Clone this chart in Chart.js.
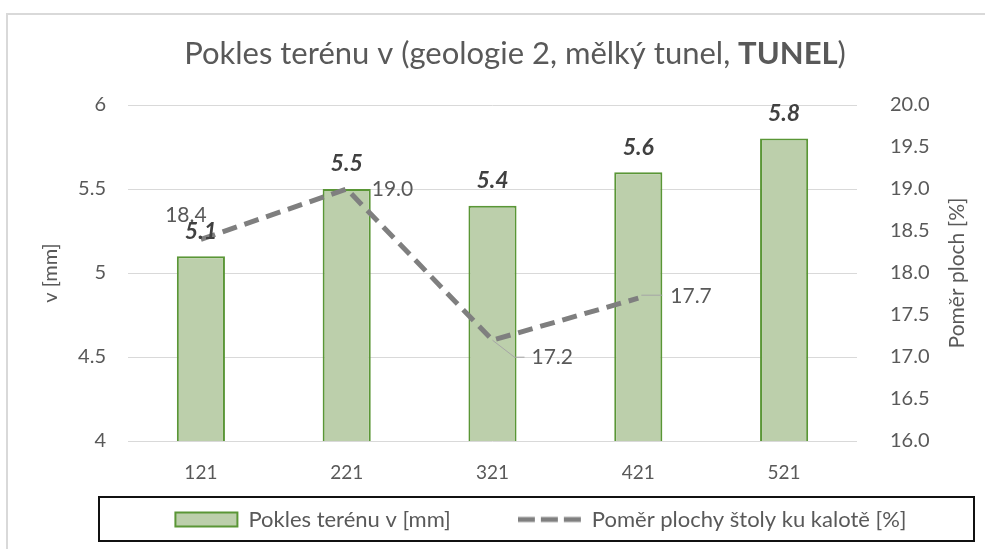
<!DOCTYPE html>
<html>
<head>
<meta charset="utf-8">
<script src="https://cdn.jsdelivr.net/npm/chart.js@4/dist/chart.umd.min.js"></script>
<style>
  html, body { margin: 0; padding: 0; background: #ffffff; }
  #wrap { position: relative; width: 985px; height: 549px; }
</style>
</head>
<body>
<div id="wrap"><canvas id="c" width="985" height="549"></canvas></div>
<script>
// ---- data ----
const categories = ['121', '221', '321', '421', '521'];
const settlement = [5.1, 5.5, 5.4, 5.6, 5.8];          // Pokles terénu v [mm]
const areaRatio = [18.4, 19.0, 17.2, 17.7, null];      // Poměr plochy štoly ku kalotě [%]
const leftTicks = [4, 4.5, 5, 5.5, 6];
const rightTicks = [16, 16.5, 17, 17.5, 18, 18.5, 19, 19.5, 20];
const titleParts = [
  { text: 'Pokles terénu v (geologie 2, mělký tunel, ', bold: false },
  { text: 'TUNEL', bold: true },
  { text: ')', bold: false }
];
const seriesNames = ['Pokles terénu v [mm]', 'Poměr plochy štoly ku kalotě [%]'];
const axisTitles = ['v [mm]', 'Poměr ploch [%]'];

const FONT = 'Lato, "Open Sans", sans-serif';
const GREY = '#595959';
const LINE_COLOR = '#7f7f7f';
const LINE_DASH = [15, 8];
const LEGEND_GAP = 68;

// placements for line value labels (relative to point)
const lineLabelPlacement = [
  { dx: -15, dy: -24, align: 'center' },
  { dx: 25, dy: 0, align: 'left' },
  { dx: 39, dy: 17, align: 'left', leader: [[0, 0], [22, 17], [32, 17]] },
  { dx: 32, dy: -2, align: 'left', leader: [[3, -3], [24, -3]] }
];

// legend symbol for the dashed line
const dashIcon = document.createElement('canvas');
dashIcon.width = 64; dashIcon.height = 14;
(function () {
  const c = dashIcon.getContext('2d');
  c.strokeStyle = LINE_COLOR;
  c.lineWidth = 5;
  c.setLineDash([17, 6]);
  c.beginPath();
  c.moveTo(0, 7);
  c.lineTo(64, 7);
  c.stroke();
})();

const framePlugin = {
  id: 'frame',
  beforeDraw(chart) {
    const ctx = chart.ctx;
    ctx.save();
    ctx.fillStyle = '#ffffff';
    ctx.fillRect(0, 0, chart.width, chart.height);
    ctx.strokeStyle = '#d9d9d9';
    ctx.lineWidth = 2;
    ctx.strokeRect(7, 14, chart.width + 20, chart.height + 20);
    ctx.restore();
  }
};

const titlePlugin = {
  id: 'mixedTitle',
  afterDraw(chart) {
    const ctx = chart.ctx;
    const size = 31;
    ctx.save();
    ctx.textBaseline = 'middle';
    ctx.fillStyle = GREY;
    let total = 0;
    const widths = titleParts.map(p => {
      ctx.font = (p.bold ? 'bold ' : '') + size + 'px ' + FONT;
      const w = ctx.measureText(p.text).width;
      total += w;
      return w;
    });
    let x = 515 - total / 2;
    titleParts.forEach((p, i) => {
      ctx.font = (p.bold ? 'bold ' : '') + size + 'px ' + FONT;
      ctx.textAlign = 'left';
      ctx.fillText(p.text, x, 54);
      x += widths[i];
    });
    // right axis title, reading bottom-to-top
    const y1 = chart.scales.y1;
    ctx.save();
    ctx.translate(957, (y1.top + y1.bottom) / 2);
    ctx.rotate(-Math.PI / 2);
    ctx.font = '21px ' + FONT;
    ctx.textAlign = 'center';
    ctx.fillText(axisTitles[1], 0, 0);
    ctx.restore();
    ctx.restore();
  }
};

const legendPlugin = {
  id: 'legendTweak',
  afterLayout(chart) {
    const lg = chart.legend;
    if (!lg) return;
    const w = 1400;
    lg.left = 541 - w / 2;
    lg.right = 541 + w / 2;
    lg.width = w;
    // row of items should sit centred in the framed legend box
    lg.top = 508.5 - LEGEND_GAP;
    lg.bottom = chart.height;
    lg.height = lg.bottom - lg.top;
  },
  afterDraw(chart) {
    const ctx = chart.ctx;
    ctx.save();
    ctx.strokeStyle = '#111111';
    ctx.lineWidth = 2;
    ctx.strokeRect(99, 497, 875, 44);
    ctx.restore();
  }
};

const labelPlugin = {
  id: 'valueLabels',
  afterDatasetsDraw(chart) {
    const ctx = chart.ctx;
    ctx.save();
    // bar labels
    const barMeta = chart.getDatasetMeta(0);
    ctx.font = 'italic bold 23px ' + FONT;
    ctx.fillStyle = '#404040';
    ctx.textAlign = 'center';
    ctx.textBaseline = 'middle';
    barMeta.data.forEach((el, i) => {
      ctx.fillText(settlement[i].toFixed(1), el.x, el.y - 25);
    });
    // line labels
    const lineMeta = chart.getDatasetMeta(1);
    ctx.font = '21px ' + FONT;
    ctx.fillStyle = GREY;
    lineMeta.data.forEach((el, i) => {
      const v = areaRatio[i];
      if (v === null || v === undefined) return;
      const p = lineLabelPlacement[i];
      if (p.leader) {
        ctx.strokeStyle = '#a6a6a6';
        ctx.lineWidth = 1;
        ctx.beginPath();
        p.leader.forEach((pt, k) => {
          if (k === 0) ctx.moveTo(el.x + pt[0], el.y + pt[1]);
          else ctx.lineTo(el.x + pt[0], el.y + pt[1]);
        });
        ctx.stroke();
      }
      ctx.textAlign = p.align;
      ctx.fillText(v.toFixed(1), el.x + p.dx, el.y + p.dy);
    });
    ctx.restore();
  }
};

new Chart(document.getElementById('c'), {
  data: {
    labels: categories,
    datasets: [
      {
        type: 'bar',
        label: seriesNames[0],
        data: settlement,
        yAxisID: 'y',
        backgroundColor: '#bccfab',
        borderColor: '#5a9636',
        borderWidth: 2,
        barPercentage: 0.33,
        categoryPercentage: 1,
        order: 2
      },
      {
        type: 'line',
        label: seriesNames[1],
        data: areaRatio,
        yAxisID: 'y1',
        borderColor: LINE_COLOR,
        backgroundColor: LINE_COLOR,
        borderWidth: 5,
        borderDash: LINE_DASH,
        borderCapStyle: 'butt',
        pointRadius: 0,
        fill: false,
        tension: 0,
        order: 1
      }
    ]
  },
  options: {
    responsive: false,
    animation: false,
    devicePixelRatio: 1,
    layout: { padding: { left: 20, right: 5, top: 105, bottom: 8 } },
    plugins: {
      title: { display: false },
      tooltip: { enabled: false },
      legend: {
        display: true,
        position: 'bottom',
        maxHeight: 40,
        labels: {
          usePointStyle: true,
          pointStyleWidth: 62,
          boxHeight: 14,
          padding: LEGEND_GAP,
          color: GREY,
          font: { family: FONT, size: 22 },
          sort: (a, b) => a.datasetIndex - b.datasetIndex,
          generateLabels(chart) {
            const items = Chart.defaults.plugins.legend.labels.generateLabels(chart);
            items.forEach(it => {
              it.pointStyle = it.datasetIndex === 0 ? 'rect' : dashIcon;
            });
            return items;
          }
        }
      }
    },
    scales: {
      x: {
        offset: true,
        grid: { display: false, drawTicks: false },
        border: { display: false },
        ticks: { color: GREY, font: { family: FONT, size: 19 }, padding: 20 },
        afterFit(scale) { scale.height = 60; }
      },
      y: {
        position: 'left',
        min: leftTicks[0],
        max: leftTicks[leftTicks.length - 1],
        afterBuildTicks(scale) { scale.ticks = leftTicks.map(v => ({ value: v })); },
        ticks: {
          color: GREY,
          font: { family: FONT, size: 20 },
          padding: 22,
          callback: v => String(v)
        },
        grid: { color: '#d9d9d9', lineWidth: 1, drawTicks: false },
        border: { display: false },
        title: {
          display: true,
          text: axisTitles[0],
          color: GREY,
          font: { family: FONT, size: 20 },
          padding: { top: 19, bottom: 0 }
        },
        afterFit(scale) { scale.width = 108; }
      },
      y1: {
        position: 'right',
        min: rightTicks[0],
        max: rightTicks[rightTicks.length - 1],
        afterBuildTicks(scale) { scale.ticks = rightTicks.map(v => ({ value: v })); },
        ticks: {
          color: GREY,
          font: { family: FONT, size: 20 },
          padding: 33,
          callback: v => Number(v).toFixed(1)
        },
        grid: { display: false, drawTicks: false },
        border: { display: false },
        title: { display: false },
        afterFit(scale) { scale.width = 123; }
      }
    }
  },
  plugins: [framePlugin, titlePlugin, legendPlugin, labelPlugin]
});
</script>
</body>
</html>
